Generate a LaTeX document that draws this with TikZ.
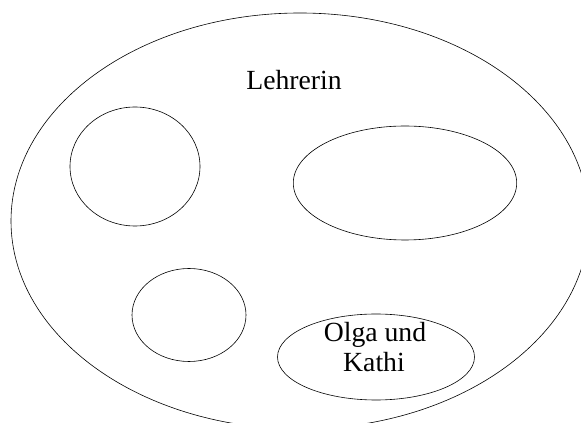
\documentclass[tikz,border=0pt]{standalone}
\usepackage{fontspec}
\setmainfont{Liberation Serif}
\begin{document}
\begin{tikzpicture}[x=1pt,y=1pt,
  outline/.style={draw=black,line width=0.6pt},
  lbl/.style={inner sep=0pt,anchor=base,font=\fontsize{27.7}{30}\selectfont}]
\useasboundingbox (0,0) rectangle (581,423);
\clip (0,0) rectangle (581,423);
\draw[outline] (300,202) ellipse [x radius=289, y radius=208];
\draw[outline] (135,256.5) ellipse [x radius=65, y radius=59.5];
\draw[outline] (405,240) ellipse [x radius=111.7, y radius=57];
\draw[outline] (189,108) ellipse [x radius=57, y radius=46.5];
\draw[outline] (376,66) ellipse [x radius=98.5, y radius=43];
\node[lbl] (lehrerin) at (294,333) {Lehrerin};
\node[lbl] (olga) at (375,81.3) {Olga und};
\node[lbl] (kathi) at (374,51.3) {Kathi};
\end{tikzpicture}
\end{document}
